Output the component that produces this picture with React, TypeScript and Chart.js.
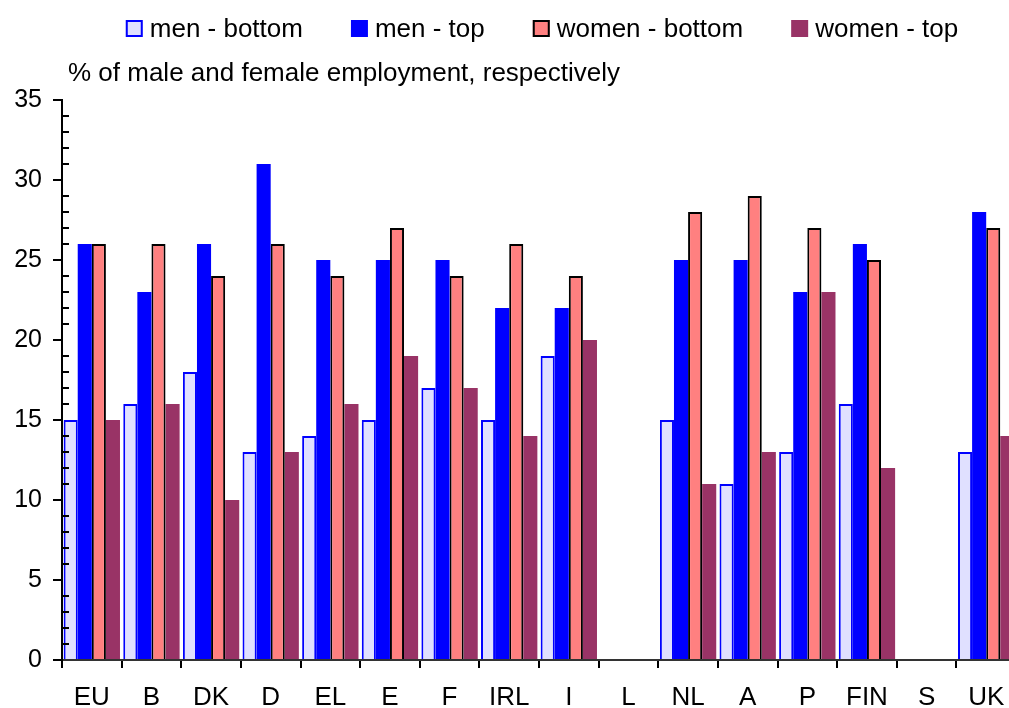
import { useEffect, useRef } from 'react';
import { Chart, registerables } from 'chart.js';

Chart.register(...registerables);

const FONT = "'Liberation Sans', Arial, Helvetica, sans-serif";

const categories = ['EU', 'B', 'DK', 'D', 'EL', 'E', 'F', 'IRL', 'I', 'L', 'NL', 'A', 'P', 'FIN', 'S', 'UK'];
const menBottom = [15, 16, 18, 13, 14, 15, 17, 15, 19, null, 15, 11, 13, 16, null, 13];
const menTop = [26, 23, 26, 31, 25, 25, 25, 22, 22, null, 25, 25, 23, 26, null, 28];
const womenBottom = [26, 26, 24, 26, 24, 27, 24, 26, 24, null, 28, 29, 27, 25, null, 27];
const womenTop = [15, 16, 10, 13, 16, 19, 17, 14, 20, null, 11, 13, 23, 12, null, 14];
const seriesLabels = ['men - bottom', 'men - top', 'women - bottom', 'women - top'];
const yTitle = '% of male and female employment, respectively';
const yMin = 0;
const yMax = 35;
const yStep = 5;

export default function App() {
  const ref = useRef<HTMLCanvasElement>(null);

  useEffect(() => {
    const canvas = ref.current;
    if (!canvas) return;

    const overlay = {
      id: 'overlay',
      afterDraw(chart: any) {
        const ctx = chart.ctx as CanvasRenderingContext2D;
        const area = chart.chartArea;
        const ys = chart.scales.y;
        ctx.save();
        // minor ticks
        ctx.strokeStyle = '#000';
        ctx.lineWidth = 2;
        for (let v = yMin; v <= yMax; v++) {
          if (v % yStep === 0) continue;
          const py = Math.round(ys.getPixelForValue(v));
          ctx.beginPath();
          ctx.moveTo(area.left, py);
          ctx.lineTo(area.left + 7, py);
          ctx.stroke();
        }
        // axis title
        ctx.font = `26px ${FONT}`;
        ctx.fillStyle = '#000';
        ctx.textAlign = 'left';
        ctx.textBaseline = 'alphabetic';
        ctx.fillText(yTitle, 68, 81);
        // legend
        const box = 17;
        const boxGap = 7;
        const itemGap = 48;
        const items = chart.data.datasets.map((ds: any) => ({
          label: ds.label,
          w: ctx.measureText(ds.label).width,
          bg: ds.backgroundColor,
          bc: ds.borderColor,
          bw: ds.borderWidth,
        }));
        const total =
          items.reduce((s: number, it: any) => s + box + boxGap + it.w, 0) + itemGap * (items.length - 1);
        let x = (area.left + area.right) / 2 - total / 2 + 3;
        for (const it of items) {
          ctx.fillStyle = it.bg;
          ctx.fillRect(x, 20, box, box);
          if (it.bw > 0) {
            ctx.strokeStyle = it.bc;
            ctx.lineWidth = 2;
            ctx.strokeRect(x + 1, 21, box - 2, box - 2);
          }
          ctx.fillStyle = '#000';
          ctx.fillText(it.label, x + box + boxGap, 37);
          x += box + boxGap + it.w + itemGap;
        }
        ctx.restore();
      },
    };

    const chart = new Chart(canvas, {
      type: 'bar',
      data: {
        labels: categories,
        datasets: [
          {
            label: seriesLabels[0],
            data: menBottom,
            backgroundColor: '#E0E0FF',
            borderColor: '#0000FF',
            borderWidth: 2,
          },
          {
            label: seriesLabels[1],
            data: menTop,
            backgroundColor: '#0000FF',
            borderColor: '#0000FF',
            borderWidth: 0,
          },
          {
            label: seriesLabels[2],
            data: womenBottom,
            backgroundColor: '#FF8080',
            borderColor: '#000000',
            borderWidth: 2,
          },
          {
            label: seriesLabels[3],
            data: womenTop,
            backgroundColor: '#993366',
            borderColor: '#993366',
            borderWidth: 0,
          },
        ],
      },
      options: {
        responsive: false,
        animation: false,
        devicePixelRatio: 1,
        layout: { padding: { top: 100, right: 24, left: 0, bottom: 0 } },
        datasets: {
          bar: { categoryPercentage: 0.945, barPercentage: 1.0 },
        },
        plugins: {
          legend: { display: false },
          title: { display: false },
          tooltip: { enabled: false },
        },
        scales: {
          x: {
            afterFit: (s: any) => {
              s.height = 48;
            },
            grid: {
              offset: true,
              drawOnChartArea: false,
              drawTicks: true,
              tickLength: 8,
              color: '#000',
              lineWidth: 2,
            },
            border: { display: true, color: '#333', width: 2 },
            ticks: {
              color: '#000',
              font: { family: FONT, size: 26 },
              padding: 14,
              maxRotation: 0,
              autoSkip: false,
            },
          },
          y: {
            min: yMin,
            max: yMax,
            afterFit: (s: any) => {
              s.width = 62;
            },
            grid: {
              drawOnChartArea: false,
              drawTicks: true,
              tickLength: 9,
              color: '#000',
              lineWidth: 2,
            },
            border: { display: true, color: '#000', width: 2 },
            ticks: {
              stepSize: yStep,
              color: '#000',
              font: { family: FONT, size: 25 },
              padding: 11,
            },
          },
        },
      },
      plugins: [overlay],
    });

    return () => chart.destroy();
  }, []);

  return (
    <div style={{ position: 'absolute', left: 0, top: 0, width: 1009, height: 708, overflow: 'hidden' }}>
      <canvas ref={ref} width={1040} height={708} style={{ display: 'block' }} />
    </div>
  );
}
